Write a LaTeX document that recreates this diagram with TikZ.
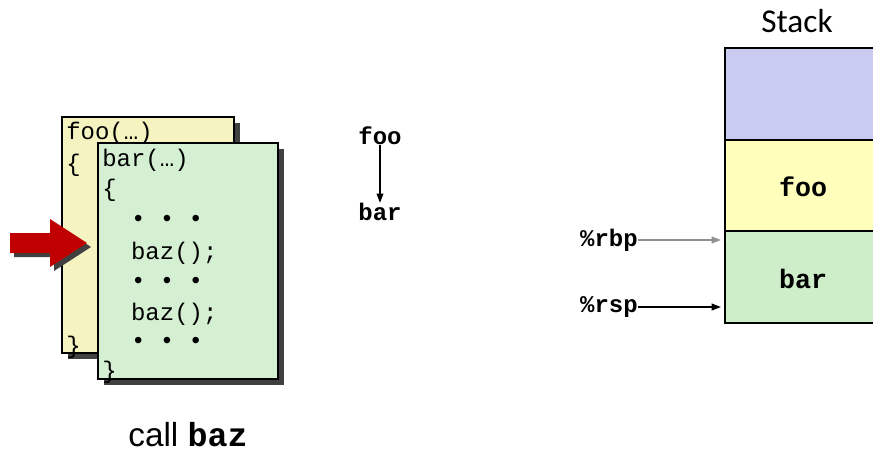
\documentclass[tikz,border=0pt]{standalone}
\usepackage{fontspec}
\setmainfont{Liberation Sans}
\setmonofont{Liberation Mono}
\newfontfamily\stackfont{Carlito}
\usetikzlibrary{positioning,arrows.meta}

\colorlet{page edge}{black}
\definecolor{foo page}{HTML}{F5F3C0}
\definecolor{bar page}{HTML}{D5EFD2}
\definecolor{page shadow}{HTML}{404040}
\definecolor{call red}{HTML}{C00000}
\definecolor{frame blue}{HTML}{C9CBF1}
\definecolor{frame yellow}{HTML}{FFFFBB}
\definecolor{frame green}{HTML}{CDEEC8}
\definecolor{rbp gray}{HTML}{909090}
\tikzset{page/.style={draw=page edge, line width=1pt},
    shadow/.style={fill=page shadow, draw=none, shift={(6,6)}},
    code/.style={font=\ttfamily\fontsize{18}{22}\selectfont, inner sep=0pt, anchor=west},
    reg/.style={font=\ttfamily\bfseries\fontsize{18}{20}\selectfont, inner sep=0pt},
    frame/.style={draw=black, line width=1.5pt},
    pointer/.style={-{Triangle[length=7pt,width=5pt]}, line width=1.2pt}}
\def\fooPage{(62,117) rectangle (234,353)}
\def\barPage{(98,143) rectangle (278,379)}
\def\redArrow{(10,233) -- (50,233) -- (50,219) -- (87,243) -- (50,267) -- (50,253) -- (10,253) -- cycle}

\begin{document}
\begin{tikzpicture}[x=0.75pt, y=-0.75pt]
     \useasboundingbox (0,0) rectangle (873,452);
     % the two code pages
     \fill[shadow] \fooPage;
     \fill[page, fill=foo page] \fooPage;
     \node[code] (foo head) at (66,133) {foo(…)};
     \node[code] (foo open) at (66,165) {\{};
     \node[code] (foo close) at (66,347) {\}};
     \fill[shadow] \barPage;
     \fill[page, fill=bar page] \barPage;
     \foreach \y/\txt [count=\i] in {160/{bar(…)}, 190/{\{},
         220/{\phantom{xx}\textbullet\ \textbullet\ \textbullet},
         253/{\phantom{xx}baz();},
         282/{\phantom{xx}\textbullet\ \textbullet\ \textbullet},
         314/{\phantom{xx}baz();},
         342/{\phantom{xx}\textbullet\ \textbullet\ \textbullet},
         372/{\}}}
       \node[code] (bar line \i) at (102,\y) {\txt};
     \fill[shadow, shift={(-2,-2)}] \redArrow;
     \fill[call red] \redArrow;
     % call chain
     \node[reg] (chain foo) at (380,136) {foo};
     \node[reg] (chain bar) at (380,212) {bar};
     \draw[pointer] (chain foo) -- (chain bar);
     % stack
     \node[font=\stackfont\fontsize{25}{28}\selectfont] (stack title) at (797,21) {Stack};
     \filldraw[frame, fill=frame blue] (725,48) rectangle (885,140);
     \filldraw[frame, fill=frame yellow] (725,140) rectangle (885,231);
     \filldraw[frame, fill=frame green] (725,231) rectangle (885,323);
     \node[reg, font=\ttfamily\bfseries\fontsize{20}{22}\selectfont] (foo frame) at (803,187) {foo};
     \node[reg, font=\ttfamily\bfseries\fontsize{20}{22}\selectfont] (bar frame) at (803,279) {bar};
     \node[reg, anchor=east] (rbp) at (638,240) {\%rbp};
     \node[reg, anchor=east] (rsp) at (638,307) {\%rsp};
     \coordinate (rbp end) at (721,240);
     \coordinate (rsp end) at (721,307);
     \draw[pointer, draw=rbp gray] (rbp) -- (rbp end);
     \draw[pointer] (rsp) -- (rsp end);
     \node[font=\fontsize{25}{28}\selectfont] (caption) at (188,435) {call \texttt{\bfseries baz}};
\end{tikzpicture}
\end{document}
